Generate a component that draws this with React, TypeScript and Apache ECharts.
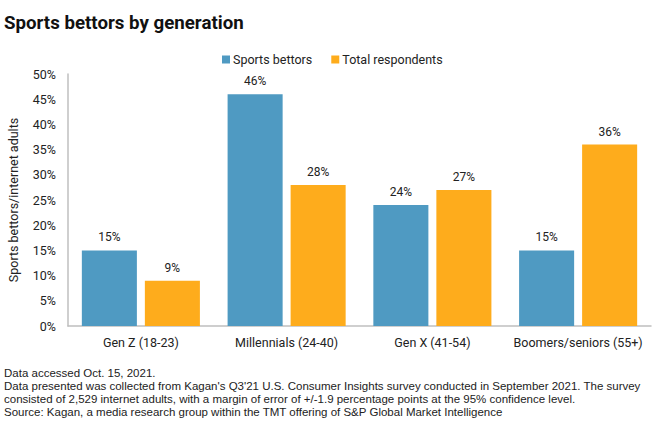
import React, { useEffect, useRef } from "react";
import * as echarts from "echarts";

const categories = ["Gen Z (18-23)", "Millennials (24-40)", "Gen X (41-54)", "Boomers/seniors (55+)"];
const sportsBettors = [15, 46, 24, 15];
const totalRespondents = [9, 28, 27, 36];
const seriesNames = ["Sports bettors", "Total respondents"];
const title = "Sports bettors by generation";
const yAxisName = "Sports bettors/internet adults";
const footerLines = [
  "Data accessed Oct. 15, 2021.",
  "Data presented was collected from Kagan's Q3'21 U.S. Consumer Insights survey conducted in September 2021. The survey",
  "consisted of 2,529 internet adults, with a margin of error of +/-1.9 percentage points at the 95% confidence level.",
  "Source: Kagan, a media research group within the TMT offering of S&P Global Market Intelligence",
];

const FONT = "Roboto, 'Liberation Sans', sans-serif";
const FOOT_FONT = "'Liberation Sans', Arial, sans-serif";
const BLUE = "#4F9AC2";
const ORANGE = "#FEAC1C";

export default function App() {
  const ref = useRef<HTMLDivElement>(null);
  useEffect(() => {
    if (!ref.current) return;
    const chart = echarts.init(ref.current, null, { renderer: "svg" });
    const labelStyle = {
      show: true,
      position: "top" as const,
      formatter: "{c}%",
      color: "#222",
      fontSize: 12,
      fontFamily: FONT,
      distance: 7,
    };
    chart.setOption({
      animation: false,
      backgroundColor: "#fff",
      textStyle: { fontFamily: FONT },
      title: {
        text: title,
        left: -1,
        top: 8,
        textStyle: { fontSize: 18.7, fontWeight: "bold", color: "#111", fontFamily: FONT },
      },
      legend: {
        data: seriesNames,
        left: 217,
        top: 48,
        itemWidth: 8,
        itemHeight: 8,
        itemGap: 19,
        icon: "rect",
        textStyle: { fontSize: 12.5, color: "#222", fontFamily: FONT, padding: [0, 0, 0, -2] },
      },
      grid: {
        left: 68,
        right: 9,
        top: 74,
        bottom: 103,
        containLabel: false,
        outerBoundsMode: "none",
      },
      xAxis: {
        type: "category",
        data: categories,
        axisLine: { lineStyle: { color: "#BFBFBF", width: 1.5 } },
        axisTick: { show: false },
        axisLabel: { color: "#222", fontSize: 12.5, fontFamily: FONT, margin: 10, interval: 0 },
      },
      yAxis: {
        type: "value",
        min: 0,
        max: 50,
        interval: 5,
        name: yAxisName,
        nameLocation: "middle",
        nameGap: 48,
        nameTextStyle: { color: "#222", fontSize: 12.5, fontFamily: FONT },
        axisLine: { show: true, lineStyle: { color: "#BFBFBF", width: 1.5 } },
        axisTick: { show: false },
        splitLine: { show: false },
        axisLabel: { formatter: "{value}%", color: "#222", fontSize: 12.5, fontFamily: FONT, margin: 12 },
      },
      series: [
        {
          name: seriesNames[0],
          type: "bar",
          data: sportsBettors,
          itemStyle: { color: BLUE },
          barGap: "14.5%",
          barCategoryGap: "19%",
          label: labelStyle,
        },
        {
          name: seriesNames[1],
          type: "bar",
          data: totalRespondents,
          itemStyle: { color: ORANGE },
          label: labelStyle,
        },
      ],
      graphic: footerLines.map((t, i) => ({
        type: "text",
        left: 4,
        top: 367 + i * 13,
        style: { text: t, fontSize: 11.5, fill: "#222", fontFamily: FOOT_FONT },
      })),
    });
    return () => chart.dispose();
  }, []);
  return <div ref={ref} style={{ position: "fixed", left: 0, top: 0, width: 660, height: 429 }} />;
}
